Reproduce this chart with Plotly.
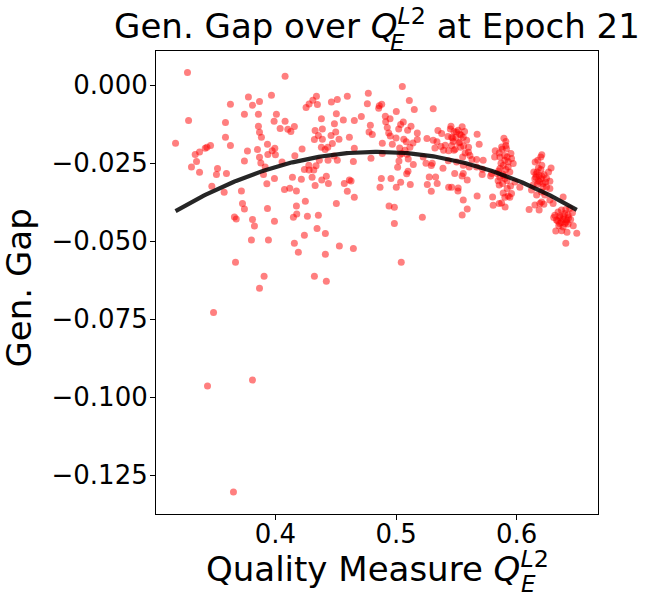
import numpy as np
import plotly.graph_objects as go

# ---- data (quality measure Q_E^L2, generalization gap) ----
q_low = [0.3271, 0.4080, 0.3280, 0.3172, 0.3776, 0.3967, 0.3627, 0.3868, 0.3810, 0.3743,
         0.3859, 0.4008, 0.3586, 0.3989, 0.4080, 0.3859, 0.4039, 0.4103, 0.4128, 0.4157,
         0.3868, 0.3884, 0.3586, 0.3627, 0.3934, 0.3418, 0.3462, 0.3432, 0.3371, 0.3335,
         0.3768, 0.3851, 0.3995, 0.3973, 0.3937, 0.4000, 0.3868, 0.3879, 0.3743, 0.3346,
         0.3304, 0.3371, 0.3520, 0.3511, 0.3594, 0.4055, 0.4161, 0.3915, 0.3901, 0.3992,
         0.4141, 0.3929, 0.3473, 0.3575, 0.3718, 0.4075, 0.4119, 0.4174, 0.3727, 0.3743,
         0.3934, 0.4174, 0.3660, 0.3675, 0.3810, 0.3826, 0.3992, 0.4149, 0.4177, 0.3801,
         0.3942, 0.4157, 0.4190, 0.3669, 0.3906,
         0.4323, 0.4422, 0.3868, 0.3487, 0.3810, 0.3437, 0.3652]
gap_low = [0.0041, 0.0029, -0.0113, -0.0186, -0.0038, -0.0032, -0.0061, -0.0052, -0.0064, -0.0093,
           -0.0093, -0.0093, -0.0119, -0.0115, -0.0115, -0.0131, -0.0139, -0.0141, -0.0148, -0.0132,
           -0.0151, -0.0167, -0.0167, -0.0193, -0.0189, -0.0202, -0.0193, -0.0199, -0.0214, -0.0222,
           -0.0211, -0.0206, -0.0202, -0.0210, -0.0222, -0.0223, -0.0231, -0.0249, -0.0243, -0.0244,
           -0.0262, -0.0279, -0.0267, -0.0286, -0.0283, -0.0246, -0.0226, -0.0262, -0.0286, -0.0299,
           -0.0295, -0.0316, -0.0324, -0.0343, -0.0339, -0.0334, -0.0330, -0.0339, -0.0379, -0.0397,
           -0.0395, -0.0387, -0.0422, -0.0429, -0.0430, -0.0451, -0.0436, -0.0423, -0.0413, -0.0496,
           -0.0496, -0.0506, -0.0535, -0.0567, -0.0612,
           -0.0612, -0.0628, -0.0651, -0.0728, -0.0945, -0.0964, -0.1304]

q_mid = [0.5052, 0.4770, 0.4596, 0.4513, 0.4464, 0.4340, 0.4310, 0.4279, 0.4254, 0.4348,
         0.5110, 0.4762, 0.4861, 0.4881, 0.4856, 0.5151, 0.5308, 0.5002, 0.4505, 0.4381,
         0.4563, 0.4654, 0.4712, 0.4911, 0.4950, 0.4914, 0.4489, 0.4787, 0.5060, 0.5038,
         0.5124, 0.4927, 0.5022, 0.5096, 0.4389, 0.4329, 0.4776, 0.4803, 0.4939, 0.5176,
         0.4952, 0.5347, 0.5378, 0.4500, 0.4461, 0.4356, 0.4613, 0.4527, 0.4323, 0.4389,
         0.5000, 0.5064, 0.5085, 0.5140, 0.5176, 0.5256, 0.5308, 0.5339, 0.5430, 0.4886,
         0.4969, 0.4472, 0.4381, 0.4412, 0.4434, 0.4221, 0.4654, 0.5030, 0.5115, 0.5074,
         0.5322, 0.5372, 0.5408, 0.5394, 0.5436, 0.4886, 0.5033, 0.5047, 0.5090, 0.5225,
         0.4486, 0.4436, 0.4364, 0.4513, 0.4646, 0.4792, 0.5024, 0.5101, 0.5248, 0.5292,
         0.5300, 0.5433, 0.4277, 0.4337, 0.4240, 0.4279, 0.4318, 0.5143, 0.5013, 0.5389,
         0.5099, 0.5088, 0.4304, 0.4215, 0.4384, 0.4422, 0.4613, 0.4627, 0.4571, 0.4439,
         0.4329, 0.4878, 0.4958, 0.5038, 0.5275, 0.5328, 0.5341, 0.5259, 0.5118, 0.4867,
         0.5002, 0.4596, 0.4654, 0.5292, 0.5436, 0.4248, 0.4505, 0.4942, 0.4986, 0.4265,
         0.4356, 0.5218, 0.4986, 0.4345, 0.4414, 0.4240, 0.4530, 0.4646, 0.4414, 0.5043]
gap_mid = [-0.0004, -0.0026, -0.0035, -0.0046, -0.0054, -0.0035, -0.0048, -0.0060, -0.0071, -0.0062,
           -0.0049, -0.0059, -0.0066, -0.0061, -0.0074, -0.0078, -0.0075, -0.0084, -0.0091, -0.0107,
           -0.0111, -0.0113, -0.0100, -0.0099, -0.0107, -0.0117, -0.0123, -0.0128, -0.0118, -0.0126,
           -0.0131, -0.0135, -0.0140, -0.0144, -0.0140, -0.0145, -0.0150, -0.0158, -0.0153, -0.0153,
           -0.0163, -0.0145, -0.0155, -0.0150, -0.0161, -0.0161, -0.0167, -0.0173, -0.0174, -0.0173,
           -0.0169, -0.0173, -0.0181, -0.0185, -0.0174, -0.0171, -0.0176, -0.0181, -0.0164, -0.0186,
           -0.0189, -0.0187, -0.0199, -0.0206, -0.0199, -0.0204, -0.0202, -0.0201, -0.0199, -0.0208,
           -0.0201, -0.0196, -0.0192, -0.0208, -0.0210, -0.0219, -0.0223, -0.0219, -0.0221, -0.0230,
           -0.0227, -0.0240, -0.0240, -0.0240, -0.0244, -0.0234, -0.0243, -0.0236, -0.0250, -0.0257,
           -0.0250, -0.0242, -0.0256, -0.0258, -0.0270, -0.0272, -0.0272, -0.0254, -0.0263, -0.0266,
           -0.0276, -0.0284, -0.0295, -0.0301, -0.0304, -0.0292, -0.0304, -0.0307, -0.0315, -0.0315,
           -0.0321, -0.0299, -0.0299, -0.0311, -0.0294, -0.0294, -0.0315, -0.0318, -0.0318, -0.0327,
           -0.0327, -0.0340, -0.0359, -0.0340, -0.0327, -0.0372, -0.0379, -0.0387, -0.0391, -0.0420,
           -0.0417, -0.0423, -0.0443, -0.0459, -0.0475, -0.0481, -0.0515, -0.0523, -0.0542, -0.0567]

q_c55 = [0.5455, 0.5548, 0.5515, 0.5480, 0.5568, 0.5529, 0.5672, 0.5461, 0.5496, 0.5557,
         0.5585, 0.5474, 0.5529, 0.5689, 0.5461, 0.5535, 0.5601, 0.5480, 0.5573, 0.5612,
         0.5629, 0.5668, 0.5722, 0.5552, 0.5502, 0.5557, 0.5607, 0.5668, 0.5717, 0.5486,
         0.5547, 0.5557, 0.5714, 0.5590, 0.5461, 0.5515, 0.5513, 0.5672, 0.5557, 0.5590,
         0.5548, 0.5500, 0.5540, 0.5470, 0.5520, 0.5560, 0.5490, 0.5600, 0.5450]
gap_c55 = [-0.0131, -0.0133, -0.0144, -0.0148, -0.0148, -0.0157, -0.0157, -0.0167, -0.0167, -0.0167,
           -0.0176, -0.0180, -0.0183, -0.0189, -0.0193, -0.0199, -0.0199, -0.0208, -0.0217, -0.0225,
           -0.0238, -0.0238, -0.0240, -0.0230, -0.0246, -0.0256, -0.0262, -0.0262, -0.0269, -0.0283,
           -0.0291, -0.0283, -0.0286, -0.0304, -0.0327, -0.0329, -0.0339, -0.0355, -0.0368, -0.0397,
           -0.0416, -0.0150, -0.0160, -0.0170, -0.0185, -0.0195, -0.0205, -0.0215, -0.0140]

q_c59 = [0.5894, 0.5910, 0.5910, 0.5875, 0.5916, 0.5822, 0.5855, 0.5952, 0.5817, 0.5861,
         0.5921, 0.5957, 0.5902, 0.5971, 0.5888, 0.5929, 0.5861, 0.5943, 0.5792, 0.5838,
         0.5888, 0.5784, 0.5861, 0.5902, 0.5846, 0.5883, 0.5985, 0.5855, 0.5949, 0.6026,
         0.5921, 0.5888, 0.5957, 0.5929, 0.5800, 0.5902, 0.5943, 0.5875, 0.5805, 0.5855,
         0.5904, 0.5880, 0.5900, 0.5930, 0.5870, 0.5910, 0.5850, 0.5890, 0.5920]
gap_c59 = [-0.0170, -0.0180, -0.0193, -0.0198, -0.0203, -0.0210, -0.0217, -0.0219, -0.0230, -0.0230,
           -0.0230, -0.0235, -0.0240, -0.0251, -0.0257, -0.0262, -0.0267, -0.0278, -0.0283, -0.0283,
           -0.0285, -0.0291, -0.0295, -0.0299, -0.0306, -0.0315, -0.0310, -0.0320, -0.0323, -0.0327,
           -0.0331, -0.0345, -0.0347, -0.0355, -0.0358, -0.0359, -0.0359, -0.0377, -0.0385, -0.0379,
           -0.0390, -0.0205, -0.0225, -0.0245, -0.0250, -0.0270, -0.0275, -0.0290, -0.0305]

q_c62 = [0.6208, 0.6200, 0.6175, 0.6153, 0.6208, 0.6285, 0.6264, 0.6142, 0.6169, 0.6186,
         0.6227, 0.6159, 0.6202, 0.6247, 0.6275, 0.6178, 0.6219, 0.6247, 0.6136, 0.6275,
         0.6123, 0.6206, 0.6165, 0.6233, 0.6275, 0.6206, 0.6151, 0.6192, 0.6225, 0.6302,
         0.6103, 0.6186, 0.6385, 0.6180, 0.6200, 0.6160, 0.6210, 0.6190, 0.6170, 0.6220,
         0.6150, 0.6240]
gap_c62 = [-0.0223, -0.0230, -0.0240, -0.0246, -0.0256, -0.0265, -0.0278, -0.0278, -0.0278, -0.0289,
           -0.0287, -0.0295, -0.0300, -0.0298, -0.0308, -0.0306, -0.0315, -0.0326, -0.0320, -0.0331,
           -0.0336, -0.0342, -0.0352, -0.0352, -0.0368, -0.0374, -0.0384, -0.0379, -0.0381, -0.0379,
           -0.0398, -0.0400, -0.0358, -0.0265, -0.0270, -0.0285, -0.0292, -0.0310, -0.0318, -0.0325,
           -0.0300, -0.0310]

q_c64 = [0.6316, 0.6343, 0.6371, 0.6407, 0.6440, 0.6357, 0.6399, 0.6426, 0.6462, 0.6330,
         0.6385, 0.6414, 0.6447, 0.6357, 0.6426, 0.6469, 0.6385, 0.6324, 0.6373, 0.6417,
         0.6498, 0.6407, 0.6307, 0.6349, 0.6399, 0.6360, 0.6390, 0.6410, 0.6370, 0.6430,
         0.6340]
gap_c64 = [-0.0417, -0.0406, -0.0400, -0.0398, -0.0395, -0.0419, -0.0411, -0.0416, -0.0409, -0.0432,
           -0.0430, -0.0432, -0.0430, -0.0443, -0.0445, -0.0450, -0.0454, -0.0467, -0.0466, -0.0471,
           -0.0474, -0.0506, -0.0424, -0.0450, -0.0443, -0.0425, -0.0420, -0.0438, -0.0440, -0.0425,
           -0.0435]

x_ticks = [0.4, 0.5, 0.6]
y_ticks = [0.0, -0.025, -0.05, -0.075, -0.1, -0.125]

quality = np.array(q_low + q_mid + q_c55 + q_c59 + q_c62 + q_c64)
gen_gap = np.array(gap_low + gap_mid + gap_c55 + gap_c59 + gap_c62 + gap_c64)

# quadratic trend fitted to the points
coef = np.polyfit(quality, gen_gap, 2)
x_fit = np.linspace(quality.min(), quality.max(), 200)
y_fit = np.polyval(coef, x_fit)

FONT = "DejaVu Sans"

fig = go.Figure()
fig.add_trace(go.Scatter(
    x=quality, y=gen_gap, mode="markers",
    marker=dict(size=7, color="rgba(255,0,0,0.5)", line=dict(width=0)),
    showlegend=False, hoverinfo="skip"))
fig.add_trace(go.Scatter(
    x=x_fit, y=y_fit, mode="lines",
    line=dict(color="rgba(0,0,0,0.85)", width=4.2),
    showlegend=False, hoverinfo="skip"))

axis_common = dict(
    showline=True, linecolor="black", linewidth=1.1, mirror=True,
    showgrid=False, zeroline=False, automargin=False,
    ticks="outside", ticklen=5, tickwidth=1.1, tickcolor="black",
    tickfont=dict(family=FONT, size=26, color="black"),
)

fig.update_layout(
    width=647, height=604, autosize=False,
    margin=dict(l=155.7, r=48.7, t=50.7, b=89.7),
    paper_bgcolor="white", plot_bgcolor="white",
    font=dict(family=FONT, color="black"),
    xaxis=dict(range=[0.301, 0.6674], tickvals=x_ticks, tickformat=".1f",
               ticklabelstandoff=-8, **axis_common),
    yaxis=dict(range=[-0.13742, 0.01098], tickvals=y_ticks, tickformat=".3f",
               ticklabelstandoff=-3, **axis_common),
    title=dict(
        text="Gen. Gap over <i>Q</i><sup><i>L</i>2</sup> at Epoch 21",
        font=dict(family=FONT, size=34, color="black"),
        x=0.5, xref="paper", xanchor="center",
        y=1.0, yref="container", yanchor="top", pad=dict(t=14)),
    annotations=[
        dict(text="<i>E</i>", x=0.5282, y=1.0166, xref="paper", yref="paper",
             xanchor="left", yanchor="middle", showarrow=False, borderpad=0,
             font=dict(family=FONT, size=23, color="black")),
        dict(text="Quality Measure <i>Q</i><sup><i>L</i>2</sup>", x=0.5, y=-0.1153,
             xref="paper", yref="paper", xanchor="center", yanchor="middle",
             showarrow=False, font=dict(family=FONT, size=34, color="black")),
        dict(text="<i>E</i>", x=0.8232, y=-0.1504, xref="paper", yref="paper",
             xanchor="left", yanchor="middle", showarrow=False, borderpad=0,
             font=dict(family=FONT, size=23, color="black")),
        dict(text="Gen. Gap", x=-0.309, y=0.488, xref="paper", yref="paper",
             xanchor="center", yanchor="middle", textangle=-90, showarrow=False,
             font=dict(family=FONT, size=34, color="black")),
    ],
)

fig.write_html("out.html", config={"displayModeBar": False},
               post_script="document.body.style.margin='0px';document.body.style.padding='0px';")
